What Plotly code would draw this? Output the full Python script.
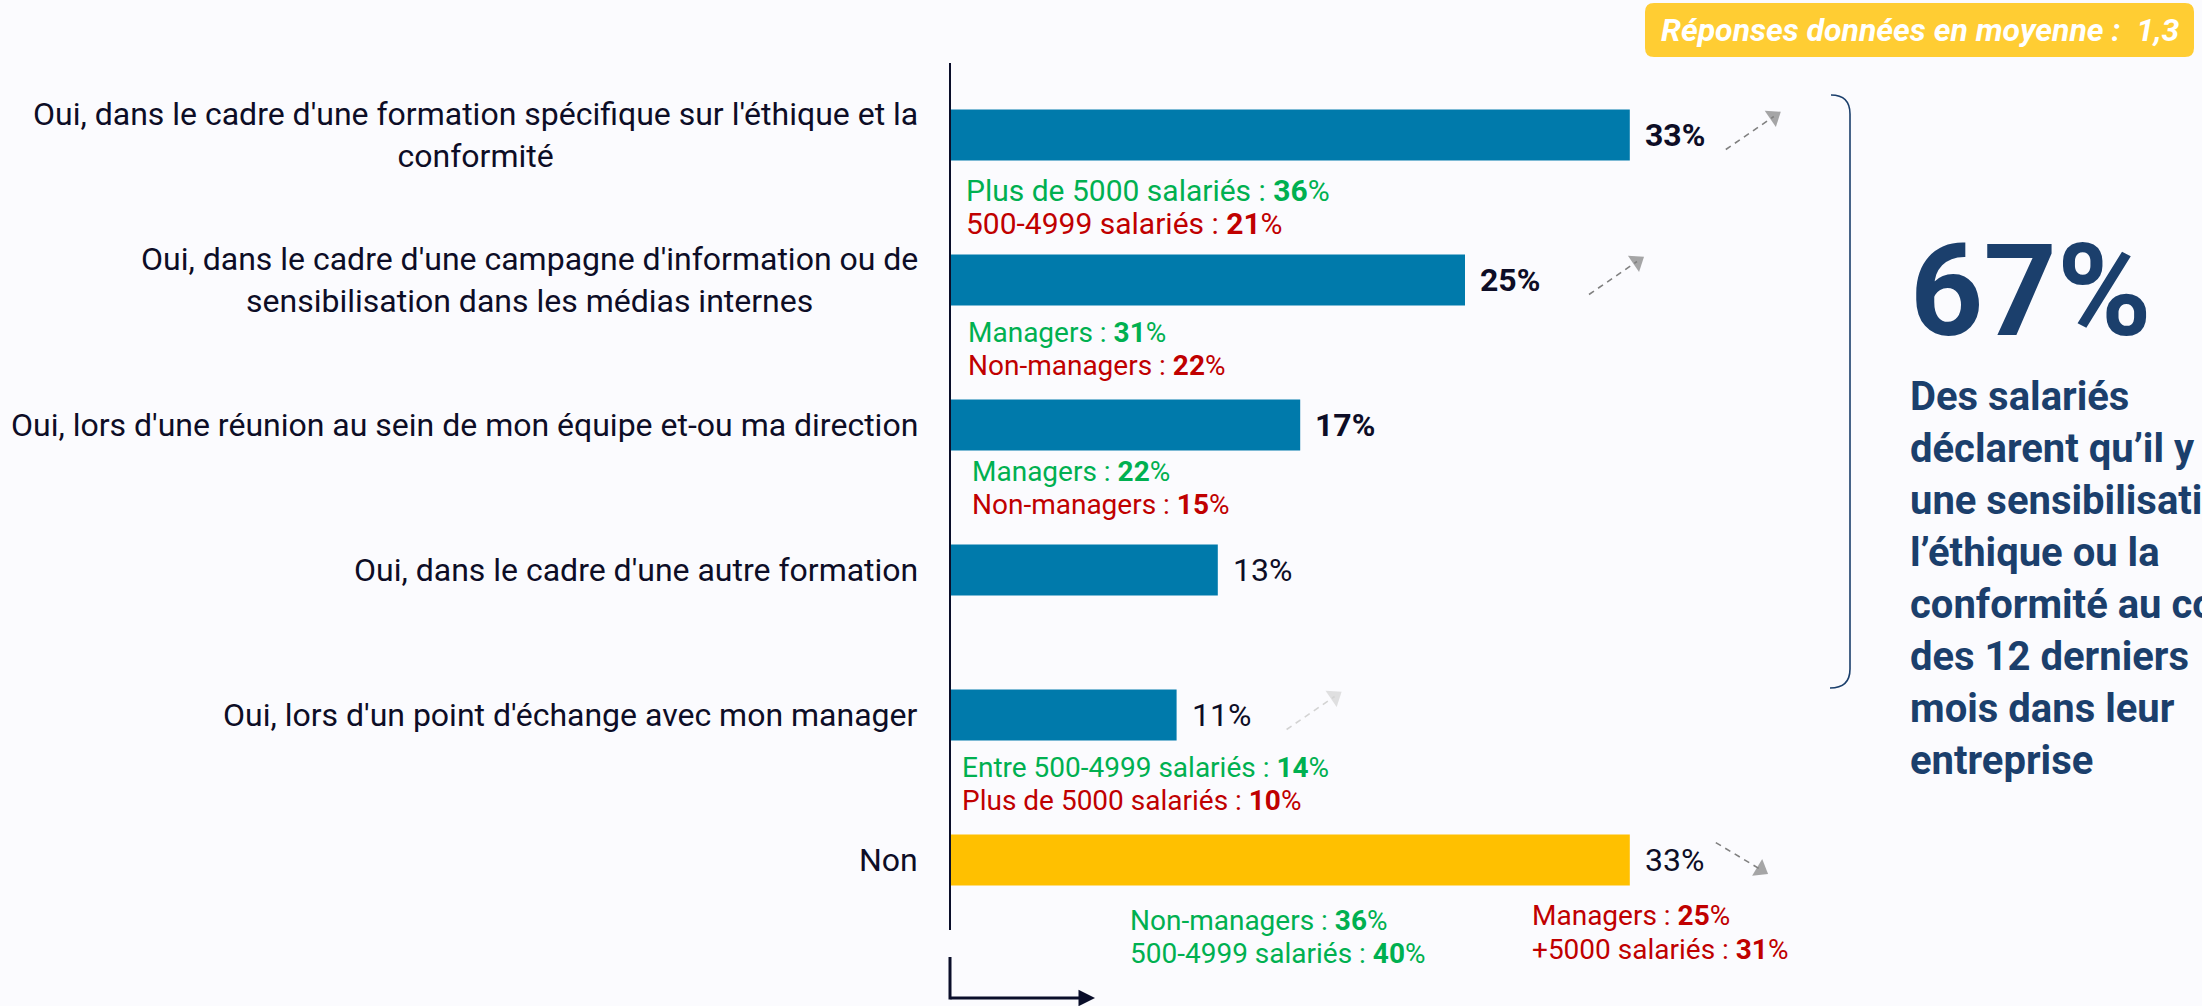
import plotly.graph_objects as go

# ---------------- data ----------------
categories = [
    "Oui, dans le cadre d'une formation spécifique sur l'éthique et la<br>conformité",
    "Oui, dans le cadre d'une campagne d'information ou de<br>sensibilisation dans les médias internes",
    "Oui, lors d'une réunion au sein de mon équipe et-ou ma direction",
    "Oui, dans le cadre d'une autre formation",
    "Oui, lors d'un point d'échange avec mon manager",
    "Non",
]
values = [33, 25, 17, 13, 11, 33]
value_bold = [True, True, True, False, False, False]

# sub-group details (category index, label, value)
sub_cat = [0, 0, 1, 1, 2, 2, 4, 4, 5, 5, 5, 5]
sub_label = [
    "Plus de 5000 salariés", "500-4999 salariés",
    "Managers", "Non-managers",
    "Managers", "Non-managers",
    "Entre 500-4999 salariés", "Plus de 5000 salariés",
    "Non-managers", "500-4999 salariés",
    "Managers", "+5000 salariés",
]
sub_value = [36, 21, 31, 22, 22, 15, 14, 10, 36, 40, 25, 31]

# trend arrows per category
trend = ["up", "up", None, None, "up", "down"]

total_yes = 67
avg_answers = "1,3"
headline_text = ("Des salariés<br>déclarent qu’il y a<br>une sensibilisation à<br>l’éthique ou la<br>"
                 "conformité au cours<br>des 12 derniers<br>mois dans leur<br>entreprise")

# ---------------- style / layout ----------------
W, H = 2202, 1006
AXIS_PX = 950
PX_PER_PCT = 20.6
ROW0_PX = 135
ROW_STEP = 145

BG = "#FBFBFE"
BLUE = "#007AAB"
YELLOW = "#FFC000"
BOX_YELLOW = "#FFCD33"
NAVY = "#1B3F6C"
DARK = "#0D0D26"
GREEN = "#00B050"
RED = "#C00000"
FONT = "Roboto"

bar_colors = [BLUE] * 5 + [YELLOW]
sub_dx_px = [16, 16, 18, 18, 22, 22, 12, 12, 180, 180, 582, 582]
sub_dy_px = [55, 88, 52, 85, 46, 79, 52, 85, 60, 93, 55, 89]
sub_size = [30, 30, 28, 28, 28, 28, 28, 28, 28, 28, 28, 28]
arrow_gap_px = [96, 124, None, None, 110, 86]
arrow_color = ["#808080", "#808080", None, None, "#D3D3D3", "#808080"]
arrow_vec = {"up": (48, -33), "down": (45, 27)}


def px(x):
    return x / W


def py(y):
    return 1 - y / H


positions = list(range(len(categories)))

fig = go.Figure()
fig.add_trace(go.Bar(
    x=values, y=positions, orientation="h", width=0.352,
    marker=dict(color=bar_colors, line=dict(width=0)),
    hoverinfo="skip",
))

# trend arrows
for i, t in enumerate(trend):
    if t is None:
        continue
    vx, vy = arrow_vec[t]
    x0 = values[i] + arrow_gap_px[i] / PX_PER_PCT
    y0 = positions[i] + (0.10 if t == "up" else -0.12)
    x1 = x0 + vx / PX_PER_PCT
    y1 = y0 + vy / ROW_STEP
    fig.add_trace(go.Scatter(
        x=[x0, x1], y=[y0, y1], mode="lines+markers",
        line=dict(color=arrow_color[i], width=1.6, dash="6px,5px"),
        marker=dict(symbol="triangle-up", size=[0, 17], angleref="previous",
                    color=arrow_color[i], line=dict(width=0)),
        hoverinfo="skip",
    ))

annotations = []
# category labels
for i, c in enumerate(categories):
    annotations.append(dict(
        x=0, y=positions[i], xref="x", yref="y", text=c, showarrow=False,
        xanchor="right", yanchor="middle", align="center", xshift=-30,
        font=dict(family=FONT, size=32, color=DARK),
    ))
# value labels
for i, v in enumerate(values):
    txt = f"<b>{v}%</b>" if value_bold[i] else f"{v}%"
    annotations.append(dict(
        x=v, y=positions[i], xref="x", yref="y", text=txt, showarrow=False,
        xanchor="left", yanchor="middle", xshift=13,
        font=dict(family=FONT, size=32, color=DARK),
    ))
# sub-group labels
for k, ci in enumerate(sub_cat):
    col = GREEN if sub_value[k] > values[ci] else RED
    annotations.append(dict(
        x=0, y=positions[ci], xref="x", yref="y",
        text=f"{sub_label[k]} : <b>{sub_value[k]}</b>%", showarrow=False,
        xanchor="left", yanchor="middle", xshift=sub_dx_px[k] - 2, yshift=-sub_dy_px[k],
        font=dict(family=FONT, size=sub_size[k], color=col),
    ))
# big number
annotations.append(dict(
    x=px(1908), y=py(291), xref="paper", yref="paper", text=f"<b>{total_yes}%</b>",
    showarrow=False, xanchor="left", yanchor="middle",
    font=dict(family=FONT, size=128, color=NAVY),
))
annotations.append(dict(
    x=px(1908), y=py(578), xref="paper", yref="paper", text=f"<b>{headline_text}</b>",
    showarrow=False, xanchor="left", yanchor="middle", align="left",
    font=dict(family=FONT, size=40, color=NAVY),
))
# average answers box text
annotations.append(dict(
    x=px(1659), y=py(30), xref="paper", yref="paper",
    text=f"Réponses données en moyenne :  {avg_answers}",
    showarrow=False, xanchor="left", yanchor="middle",
    font=dict(family=FONT, size=32, color="white", weight="bold", style="italic"),
))
# bottom-left corner arrow
annotations.append(dict(
    x=px(1095), y=py(998), xref="paper", yref="paper", text="",
    showarrow=True, ax=-146, ay=0, arrowhead=2, arrowsize=1.1, arrowwidth=3,
    arrowcolor="#0A0E2A", standoff=0,
))

shapes = []
# vertical axis line
shapes.append(dict(type="line", xref="x", yref="paper", x0=0, x1=0,
                   y0=py(63), y1=py(930), line=dict(color="#0A0E2A", width=2)))
shapes.append(dict(type="line", xref="paper", yref="paper", x0=px(950), x1=px(950),
                   y0=py(957), y1=py(999.5), line=dict(color="#0A0E2A", width=3)))
# rounded box
bx0, by0, bx1, by1, r = 1645, 3, 2194, 57, 9
box_path = (f"M {px(bx0 + r)},{py(by0)} L {px(bx1 - r)},{py(by0)} "
            f"Q {px(bx1)},{py(by0)} {px(bx1)},{py(by0 + r)} "
            f"L {px(bx1)},{py(by1 - r)} Q {px(bx1)},{py(by1)} {px(bx1 - r)},{py(by1)} "
            f"L {px(bx0 + r)},{py(by1)} Q {px(bx0)},{py(by1)} {px(bx0)},{py(by1 - r)} "
            f"L {px(bx0)},{py(by0 + r)} Q {px(bx0)},{py(by0)} {px(bx0 + r)},{py(by0)} Z")
shapes.append(dict(type="path", xref="paper", yref="paper", path=box_path,
                   fillcolor=BOX_YELLOW, line=dict(width=0), layer="below"))
# bracket
bk_path = (f"M {px(1831)},{py(95)} Q {px(1850)},{py(95)} {px(1850)},{py(114)} "
           f"L {px(1850)},{py(669)} Q {px(1850)},{py(688)} {px(1830)},{py(688)}")
shapes.append(dict(type="path", xref="paper", yref="paper", path=bk_path,
                   line=dict(color=NAVY, width=1.6)))

fig.update_layout(
    width=W, height=H, margin=dict(l=0, r=0, t=0, b=0),
    paper_bgcolor=BG, plot_bgcolor=BG, showlegend=False,
    xaxis=dict(range=[-AXIS_PX / PX_PER_PCT, (W - AXIS_PX) / PX_PER_PCT], visible=False,
               domain=[0, 1], fixedrange=True),
    yaxis=dict(range=[(H - ROW0_PX) / ROW_STEP, -ROW0_PX / ROW_STEP], visible=False,
               domain=[0, 1], fixedrange=True),
    annotations=annotations, shapes=shapes,
    font=dict(family=FONT),
)

fig.write_html(
    "out.html",
    config={"displayModeBar": False},
    post_script="document.body.style.margin='0px';document.body.style.overflow='hidden';",
)
